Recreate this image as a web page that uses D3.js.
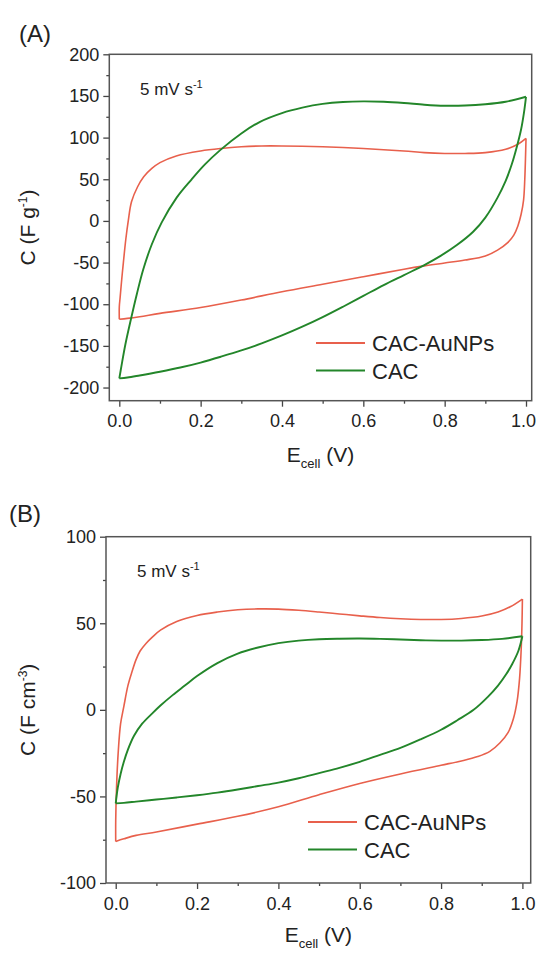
<!DOCTYPE html>
<html lang="en">
<head>
<meta charset="UTF-8">
<script src="https://d3js.org/d3.v7.min.js"></script>
<title>CV capacitance curves</title>
<style>
    body { margin: 0; background: white; }
    svg text { font-family: "Liberation Sans", Arial, sans-serif; fill: #222; }
</style>
</head>
<body>
<div id="chart"></div>
<script>
// ---- data (E_cell in V, C in F/g or F/cm3) ----
const xTicks = [0, 0.2, 0.4, 0.6, 0.8, 1.0];
const xMinor = [0.1, 0.3, 0.5, 0.7, 0.9];

// panel A, F g-1
const yTicksA = [-200, -150, -100, -50, 0, 50, 100, 150, 200];
const yMinorA = [-175, -125, -75, -25, 25, 75, 125, 175];
const aAuCharge = [[0, -118], [0, -103], [0.002, -92], [0.006, -70], [0.01, -50], [0.016, -22], [0.022, 0], [0.03, 23],
    [0.045, 41], [0.06, 53], [0.08, 63], [0.1, 70], [0.14, 78], [0.2, 84], [0.25, 87], [0.3, 89], [0.35, 90],
    [0.4, 90], [0.5, 89], [0.6, 87], [0.7, 84], [0.75, 82], [0.8, 81], [0.85, 81], [0.9, 82], [0.95, 86],
    [0.98, 92], [1.0, 99]];
const aAuDischarge = [[1.0, 99], [0.999, 80], [0.997, 50], [0.994, 25], [0.988, 8], [0.98, -6], [0.97, -17],
    [0.955, -26], [0.93, -35], [0.9, -42], [0.85, -47], [0.8, -50.5], [0.75, -54], [0.7, -58], [0.6, -67],
    [0.5, -76], [0.4, -85], [0.3, -95], [0.2, -104], [0.1, -111], [0.05, -115], [0.02, -117], [0, -118]];
const aCacCharge = [[0, -189], [0.005, -175], [0.015, -148], [0.03, -115], [0.043, -88], [0.059, -58],
    [0.08, -28], [0.104, -2], [0.141, 28], [0.178, 50], [0.21, 67.5], [0.248, 85], [0.3, 105], [0.346, 119],
    [0.4, 129.5], [0.45, 136], [0.5, 140.5], [0.55, 142.8], [0.6, 143.5], [0.65, 143], [0.7, 141.5], [0.75, 139.5],
    [0.8, 138.3], [0.85, 138.5], [0.9, 140], [0.95, 143], [1.0, 149]];
const aCacDischarge = [[1.0, 149], [0.995, 130], [0.988, 110], [0.978, 90], [0.965, 68], [0.95, 48],
    [0.93, 28], [0.9, 4], [0.87, -13], [0.83, -29], [0.79, -42], [0.75, -53], [0.7, -65], [0.65, -77],
    [0.6, -90], [0.55, -103], [0.5, -115.5], [0.45, -127], [0.4, -137.5], [0.35, -147], [0.3, -155.5],
    [0.25, -163], [0.2, -170], [0.15, -176], [0.1, -181], [0.05, -185.5], [0.02, -188], [0, -189]];

// panel B, F cm-3
const yTicksB = [-100, -50, 0, 50, 100];
const yMinorB = [-75, -25, 25, 75];
const bAuCharge = [[0, -76], [0, -64], [0.002, -45], [0.006, -25], [0.012, -8], [0.02, 2], [0.03, 14],
    [0.04, 22], [0.05, 29], [0.06, 34], [0.075, 38.5], [0.09, 42], [0.11, 46], [0.15, 51], [0.2, 54.5],
    [0.25, 56.5], [0.3, 57.8], [0.35, 58.3], [0.4, 58.2], [0.45, 57.5], [0.5, 56.5], [0.55, 55.4],
    [0.6, 54.3], [0.65, 53.3], [0.7, 52.6], [0.75, 52.2], [0.8, 52.2], [0.85, 52.8], [0.9, 54.2],
    [0.94, 56.5], [0.97, 59.5], [1.0, 64]];
const bAuDischarge = [[1.0, 64], [0.999, 50], [0.997, 35], [0.993, 18], [0.987, 5], [0.978, -5],
    [0.965, -13], [0.945, -19], [0.92, -24], [0.89, -27], [0.85, -29.5], [0.8, -32], [0.7, -37],
    [0.6, -42.5], [0.5, -49], [0.4, -56], [0.3, -61.5], [0.2, -66], [0.1, -70.5], [0.05, -72.5],
    [0.02, -74.5], [0, -76]];
const bCacCharge = [[0, -54], [0.005, -45], [0.012, -37], [0.02, -30], [0.03, -23], [0.045, -15], [0.065, -8],
    [0.09, -2], [0.11, 2.5], [0.14, 8.5], [0.17, 14], [0.2, 19.5], [0.25, 27], [0.3, 32.5], [0.35, 36],
    [0.4, 38.5], [0.45, 40], [0.5, 40.8], [0.55, 41.1], [0.6, 41.2], [0.65, 41], [0.7, 40.6], [0.75, 40.2],
    [0.8, 40], [0.85, 40], [0.9, 40.3], [0.95, 41], [1.0, 42.5]];
const bCacDischarge = [[1.0, 42.5], [0.99, 34], [0.975, 26.5], [0.96, 20.5], [0.94, 14], [0.915, 7.5], [0.88, 0],
    [0.84, -6], [0.8, -11.5], [0.75, -17], [0.7, -22], [0.65, -26], [0.6, -30], [0.55, -33.5], [0.5, -36.5],
    [0.45, -39.5], [0.4, -42], [0.35, -44], [0.3, -46], [0.25, -47.8], [0.2, -49.3], [0.15, -50.6],
    [0.1, -51.8], [0.05, -53], [0.02, -53.7], [0, -54]];

const seriesNames = ["CAC-AuNPs", "CAC"];
const colors = ["#e8604c", "#23862a"];

const svg = d3.select("#chart").append("svg")
    .attr("width", 537)
    .attr("height", 954);

function drawPanel(p) {
    const x = d3.scaleLinear().domain(p.xDomain).range([p.left, p.right]);
    const y = d3.scaleLinear().domain(p.yDomain).range([p.bottom, p.top]);
    const g = svg.append("g");

    // y axis, major + minor ticks (plain hyphen for negatives, like the original)
    const ya = g.append("g").attr("transform", `translate(${p.left},0)`)
        .call(d3.axisLeft(y).tickValues(p.yTicks).tickSize(6).tickPadding(4).tickFormat(d => String(d)));
    const ym = g.append("g").attr("transform", `translate(${p.left},0)`)
        .call(d3.axisLeft(y).tickValues(p.yMinor).tickSize(3).tickFormat(""));
    const xa = g.append("g").attr("transform", `translate(0,${p.bottom})`)
        .call(d3.axisBottom(x).tickValues(xTicks).tickSize(6).tickPadding(8).tickFormat(d => d.toFixed(1)));
    const xm = g.append("g").attr("transform", `translate(0,${p.bottom})`)
        .call(d3.axisBottom(x).tickValues(xMinor).tickSize(3).tickFormat(""));
    [ya, ym, xa, xm].forEach(a => {
        a.select(".domain").remove();
        a.selectAll("line").attr("stroke", "#444").attr("stroke-width", 1.3);
        a.selectAll("text").style("font-size", "18px").attr("fill", "#222");
    });
    // keep the last x label inside the page
    xa.selectAll("text").filter(d => d === 1).attr("dx", p.lastLabelDx);

    // frame
    g.append("rect")
        .attr("x", p.left).attr("y", p.top)
        .attr("width", p.right - p.left).attr("height", p.bottom - p.top)
        .attr("fill", "none").attr("stroke", "#555").attr("stroke-width", 1.5);

    // curves, drawn branch by branch so the turning corners stay sharp
    const line = d3.line().x(d => x(d[0])).y(d => y(d[1])).curve(d3.curveCatmullRom.alpha(0.5));
    p.series.forEach((branches, i) => {
        branches.forEach(b => {
            g.append("path").datum(b)
                .attr("fill", "none")
                .attr("stroke", colors[i])
                .attr("stroke-width", i === 0 ? 1.6 : 1.9)
                .attr("stroke-linejoin", "round")
                .attr("d", line);
        });
    });

    // panel letter
    g.append("text").attr("x", p.letterX).attr("y", p.letterY)
        .style("font-size", "24px").text(p.letter);

    // scan rate note
    const note = g.append("text").attr("x", p.noteX).attr("y", p.noteY).style("font-size", "17px");
    note.append("tspan").text("5 mV s");
    note.append("tspan").attr("dy", -7).style("font-size", "11px").text("-1");

    // y title
    const yt = g.append("text")
        .attr("transform", `translate(${p.yTitleX},${(p.top + p.bottom) / 2}) rotate(-90)`)
        .attr("text-anchor", "middle")
        .style("font-size", "21px");
    yt.append("tspan").text(p.yUnit);
    yt.append("tspan").attr("dy", -8).style("font-size", "12px").text(p.yExp);
    yt.append("tspan").attr("dy", 8).text(")");

    // x title
    const xt = g.append("text")
        .attr("x", (p.left + p.right) / 2).attr("y", p.xTitleY)
        .attr("text-anchor", "middle")
        .style("font-size", "21px");
    xt.append("tspan").text("E");
    xt.append("tspan").attr("dy", 6).style("font-size", "13px").text("cell");
    xt.append("tspan").attr("dy", -6).text(" (V)");

    // legend
    seriesNames.forEach((name, i) => {
        const ly = p.legendY + i * 27.5;
        g.append("line")
            .attr("x1", p.legendX).attr("x2", p.legendX + 49)
            .attr("y1", ly).attr("y2", ly)
            .attr("stroke", colors[i]).attr("stroke-width", 2);
        g.append("text").attr("x", p.legendX + 56).attr("y", ly + 8)
            .style("font-size", "22px").text(name);
    });
}

drawPanel({
    left: 109.3, right: 531.7, top: 54.3, bottom: 400.7,
    xDomain: [-0.0246, 1.014], yDomain: [-215.8, 200],
    yTicks: yTicksA, yMinor: yMinorA,
    series: [[aAuCharge, aAuDischarge], [aCacCharge, aCacDischarge]],
    letter: "(A)", letterX: 19, letterY: 42,
    noteX: 140, noteY: 95,
    yTitleX: 35, yUnit: "C (F g", yExp: "-1",
    xTitleY: 462, lastLabelDx: -3,
    legendX: 316, legendY: 343
});

drawPanel({
    left: 106, right: 530.7, top: 536.7, bottom: 883,
    xDomain: [-0.0239, 1.0204], yDomain: [-100, 100],
    yTicks: yTicksB, yMinor: yMinorB,
    series: [[bAuCharge, bAuDischarge], [bCacCharge, bCacDischarge]],
    letter: "(B)", letterX: 9, letterY: 522,
    noteX: 137, noteY: 577,
    yTitleX: 35, yUnit: "C (F cm", yExp: "-3",
    xTitleY: 942, lastLabelDx: 0,
    legendX: 308, legendY: 822
});
</script>
</body>
</html>
